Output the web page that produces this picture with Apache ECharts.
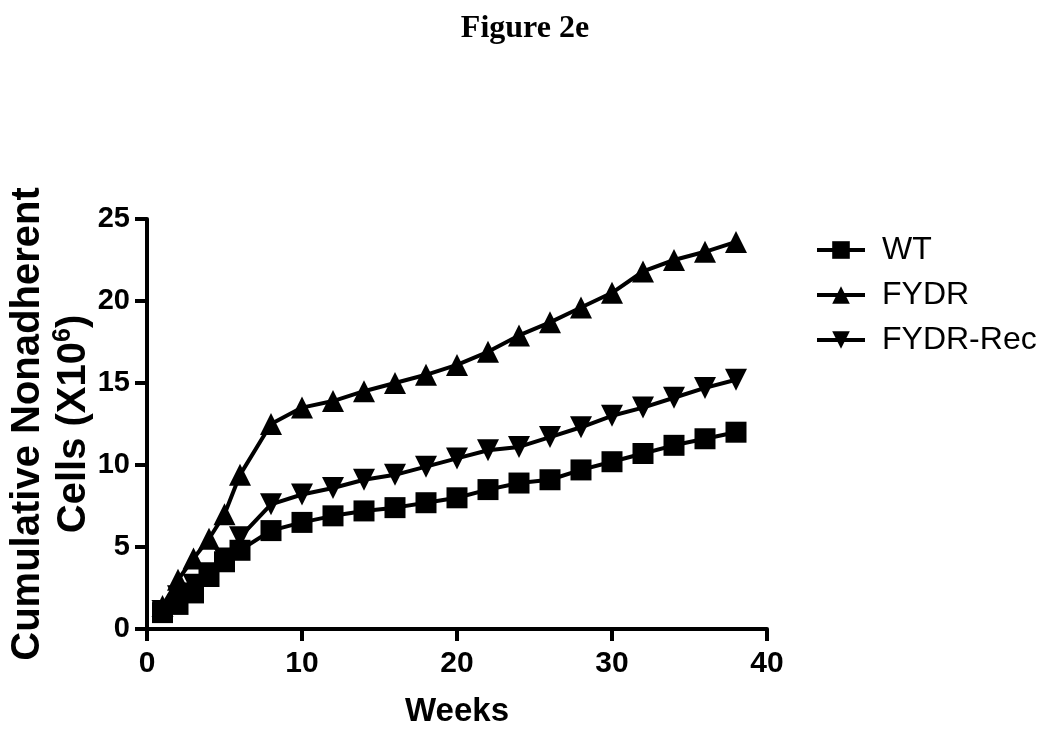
<!DOCTYPE html>
<html>
<head>
<meta charset="utf-8">
<script src="https://cdn.jsdelivr.net/npm/echarts@6/dist/echarts.min.js"></script>
<style>
  html, body { margin: 0; padding: 0; background: #fff; }
  #chart { width: 1050px; height: 733px; }
</style>
</head>
<body>
<div id="chart"></div>
<script>
// weeks sampled for each series
const weeks = [1, 2, 3, 4, 5, 6, 8, 10, 12, 14, 16, 18, 20, 22, 24, 26, 28, 30, 32, 34, 36, 38];

const wt = [1.0, 1.5, 2.2, 3.2, 4.1, 4.8, 6.0, 6.5, 6.9, 7.2, 7.4, 7.7, 8.0, 8.5, 8.9, 9.1, 9.7, 10.2, 10.7, 11.2, 11.6, 12.0];
const fydr = [1.4, 3.0, 4.3, 5.5, 7.0, 9.4, 12.5, 13.5, 13.9, 14.5, 15.0, 15.5, 16.1, 16.9, 17.9, 18.7, 19.6, 20.5, 21.8, 22.5, 23.0, 23.6];
const fydrRec = [1.1, 2.0, 2.7, 3.4, 4.3, 5.6, 7.6, 8.2, 8.6, 9.1, 9.4, 9.9, 10.4, 10.9, 11.1, 11.7, 12.3, 13.0, 13.5, 14.1, 14.7, 15.2];

const seriesNames = ['WT', 'FYDR', 'FYDR-Rec'];
const xTicks = { min: 0, max: 40, interval: 10 };
const yTicks = { min: 0, max: 25, interval: 5 };

const pair = (vals) => weeks.map((w, i) => [w, vals[i]]);

const chart = echarts.init(document.getElementById('chart'));

const axisFont = { color: '#000', fontFamily: 'Liberation Sans, Arial, sans-serif', fontWeight: 'bold' };

const lineSeries = (name, vals, symbol, size, rotate) => ({
  name: name,
  type: 'line',
  data: pair(vals),
  symbol: symbol,
  symbolSize: size,
  symbolRotate: rotate,
  showAllSymbol: true,
  lineStyle: { color: '#000', width: 4 },
  itemStyle: { color: '#000' },
  emphasis: { disabled: true },
  animation: false
});

chart.setOption({
  backgroundColor: '#fff',
  title: {
    text: 'Figure 2e',
    left: 'center',
    top: 8,
    textStyle: {
      fontFamily: 'Liberation Serif, Times New Roman, serif',
      fontWeight: 'bold',
      fontSize: 32,
      color: '#000'
    }
  },
  legend: {
    orient: 'vertical',
    left: 810,
    top: 229,
    itemWidth: 48,
    itemHeight: 22,
    itemGap: 13,
    data: seriesNames,
    lineStyle: { width: 4, color: '#000' },
    textStyle: {
      fontFamily: 'Liberation Sans, Arial, sans-serif',
      fontSize: 32,
      color: '#000',
      padding: [0, 0, 0, 12]
    }
  },
  grid: {
    left: 147,
    right: 283,
    top: 219,
    bottom: 104,
    outerBoundsMode: 'none'
  },
  xAxis: {
    type: 'value',
    min: xTicks.min,
    max: xTicks.max,
    interval: xTicks.interval,
    name: 'Weeks',
    nameLocation: 'middle',
    nameGap: 66,
    nameMoveOverlap: false,
    nameTextStyle: Object.assign({ fontSize: 33 }, axisFont),
    axisLine: { show: true, lineStyle: { color: '#000', width: 4 } },
    axisTick: { show: true, length: 12, lineStyle: { color: '#000', width: 4 } },
    axisLabel: Object.assign({ fontSize: 30, margin: 20 }, axisFont),
    splitLine: { show: false }
  },
  yAxis: {
    type: 'value',
    min: yTicks.min,
    max: yTicks.max,
    interval: yTicks.interval,
    name: '{a|Cumulative Nonadherent}\n{a|Cells (X10}{s|6}{a|)}',
    nameLocation: 'middle',
    nameGap: 50,
    nameMoveOverlap: false,
    nameRotate: 90,
    nameTextStyle: {
      rich: {
        a: Object.assign({ fontSize: 40, lineHeight: 46 }, axisFont),
        s: Object.assign({ fontSize: 25, verticalAlign: 'top', lineHeight: 46 }, axisFont)
      }
    },
    axisLine: { show: true, lineStyle: { color: '#000', width: 4 } },
    axisTick: { show: true, length: 12, lineStyle: { color: '#000', width: 4 } },
    axisLabel: Object.assign({ fontSize: 29, margin: 17 }, axisFont),
    splitLine: { show: false }
  },
  series: [
    lineSeries('WT', wt, 'rect', 21, 0),
    lineSeries('FYDR', fydr, 'triangle', 22, 0),
    lineSeries('FYDR-Rec', fydrRec, 'triangle', 22, 180)
  ]
});
</script>
</body>
</html>
